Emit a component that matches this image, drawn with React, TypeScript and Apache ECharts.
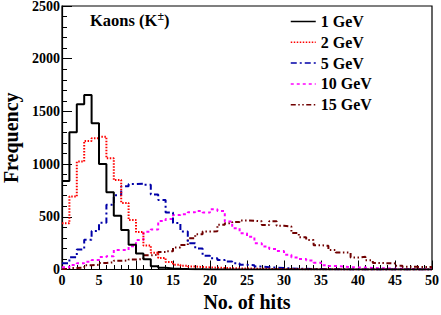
import React, { useEffect, useRef } from "react";
import * as echarts from "echarts";

const seriesNames = ["1 GeV", "2 GeV", "5 GeV", "10 GeV", "15 GeV"];
const xTicks = [0, 5, 10, 15, 20, 25, 30, 35, 40, 45, 50];
const yTicks = [0, 500, 1000, 1500, 2000, 2500];

const hits1GeV = [840, 1302, 1567, 1656, 1387, 1001, 732, 511, 375, 235, 152, 97, 32, 16, 10, 6, 4, 3, 2, 1, 1, 1, 0, 0, 0, 0, 0, 0, 0, 0, 0, 0, 0, 0, 0, 0, 0, 0, 0, 0, 0, 0, 0, 0, 0, 0, 0, 0, 0, 0];
const hits2GeV = [438, 692, 1024, 1220, 1245, 1260, 1055, 848, 632, 470, 355, 228, 160, 109, 71, 45, 35, 28, 24, 20, 17, 15, 12, 10, 9, 8, 7, 6, 5, 5, 4, 4, 3, 3, 2, 2, 2, 1, 1, 1, 1, 1, 0, 0, 0, 0, 0, 0, 0, 0];
const hits5GeV = [60, 116, 190, 282, 365, 444, 614, 705, 790, 811, 815, 803, 712, 660, 540, 440, 360, 250, 200, 130, 106, 90, 75, 60, 45, 40, 28, 22, 18, 14, 10, 8, 6, 5, 4, 3, 2, 2, 1, 1, 1, 1, 0, 0, 0, 0, 0, 0, 0, 0];
const hits10GeV = [21, 43, 59, 74, 90, 118, 125, 185, 185, 220, 280, 359, 380, 460, 480, 517, 525, 543, 555, 540, 572, 555, 455, 391, 343, 310, 250, 218, 195, 175, 140, 115, 100, 85, 65, 40, 33, 28, 22, 20, 18, 15, 12, 10, 8, 6, 5, 4, 3, 2];
const hits15GeV = [5, 15, 18, 40, 45, 62, 68, 82, 86, 95, 100, 135, 140, 165, 172, 208, 232, 296, 335, 360, 362, 425, 438, 450, 465, 462, 458, 422, 458, 414, 408, 346, 305, 280, 230, 225, 185, 162, 160, 114, 120, 87, 62, 59, 58, 36, 26, 25, 24, 24];

const allHits = [hits1GeV, hits2GeV, hits5GeV, hits10GeV, hits15GeV];
const colors = ["#000000", "#ff0000", "#0000a8", "#ff00ff", "#700000"];
const dashes: any[] = ["solid", [1.5, 1.5], [6, 3, 2, 3], [3, 3], [5, 2.5, 1.5, 2.5, 1.5, 2.5]];
const widths = [2, 2, 2, 2, 2];

const FONT = "'Liberation Serif', 'Times New Roman', serif";

function toSteps(vals: number[]) {
  const pts: number[][] = vals.map((v, i) => [i, v]);
  pts.push([vals.length, vals[vals.length - 1]]);
  return pts;
}

export default function App() {
  const ref = useRef<HTMLDivElement>(null);
  useEffect(() => {
    if (!ref.current) return;
    const chart = echarts.init(ref.current, null, { renderer: "svg" });
    const option: any = {
      animation: false,
      backgroundColor: "#ffffff",
      grid: {
        left: 62,
        right: 9,
        top: 6,
        bottom: 45.5,
        show: true,
        borderColor: "#000",
        borderWidth: 1.2,
        backgroundColor: "transparent",
        outerBoundsMode: "none",
      },
      title: {
        text: "Kaons (K{sup|±})",
        left: 90,
        top: 10,
        padding: 0,
        textStyle: {
          fontFamily: FONT,
          fontWeight: "bold",
          fontSize: 16.5,
          color: "#000",
          rich: {
            sup: { fontFamily: FONT, fontSize: 12, fontWeight: "bold", color: "#000", padding: [0, 0, 8, 0] },
          },
        },
      },
      legend: {
        orient: "vertical",
        left: 290,
        top: 13.5,
        padding: 0,
        itemWidth: 25,
        itemHeight: 14,
        itemGap: 4.8,
        data: seriesNames,
        itemStyle: { opacity: 0 },
        lineStyle: { width: 1.5 },
        textStyle: { fontFamily: FONT, fontWeight: "bold", fontSize: 16, color: "#000", lineHeight: 16 },
      },
      xAxis: {
        type: "value",
        min: xTicks[0],
        max: xTicks[xTicks.length - 1],
        interval: 5,
        name: "No. of hits",
        nameLocation: "middle",
        nameGap: 17,
        nameTextStyle: { fontFamily: FONT, fontWeight: "bold", fontSize: 20, color: "#000" },
        axisLine: { show: true, onZero: false, lineStyle: { color: "#000", width: 1.2 } },
        axisTick: { show: true, inside: true, length: 9, lineStyle: { color: "#000" } },
        minorTick: { show: true, splitNumber: 5, length: 4.5, lineStyle: { color: "#000" } },
        splitLine: { show: false },
        axisLabel: { fontFamily: FONT, fontWeight: "bold", fontSize: 14, color: "#000", margin: 4, formatter: (v: number) => String(v) },
      },
      yAxis: {
        type: "value",
        min: yTicks[0],
        max: yTicks[yTicks.length - 1],
        interval: 500,
        name: "Frequency",
        nameLocation: "middle",
        nameRotate: 90,
        nameGap: 37,
        nameTextStyle: { fontFamily: FONT, fontWeight: "bold", fontSize: 20, color: "#000" },
        axisLine: { show: true, lineStyle: { color: "#000", width: 1.2 } },
        axisTick: { show: true, inside: true, length: 10, lineStyle: { color: "#000" } },
        minorTick: { show: true, splitNumber: 5, length: 5, lineStyle: { color: "#000" } },
        splitLine: { show: false },
        axisLabel: { fontFamily: FONT, fontWeight: "bold", fontSize: 14, color: "#000", margin: 2, formatter: (v: number) => String(v) },
      },
      series: seriesNames.map((name, k) => ({
        name,
        type: "line",
        step: "end",
        symbol: "none",
        showSymbol: false,
        data: toSteps(allHits[k]),
        color: colors[k],
        lineStyle: { color: colors[k], width: widths[k], type: dashes[k] },
        z: 10 - k,
      })),
    };
    chart.setOption(option);
    return () => chart.dispose();
  }, []);
  return <div ref={ref} style={{ width: 441, height: 315, position: "absolute", left: 0, top: 0 }} />;
}
